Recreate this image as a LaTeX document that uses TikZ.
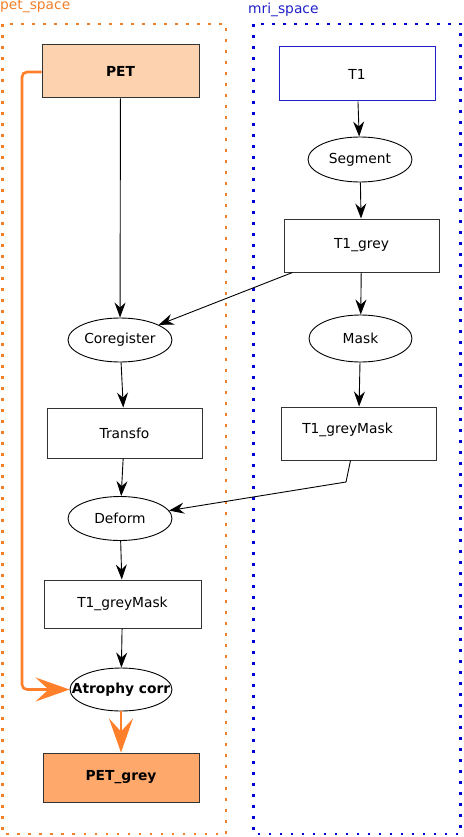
\documentclass[tikz,border=0pt]{standalone}
\usepackage{fontspec}
\setmainfont{DejaVu Sans}
\usetikzlibrary{arrows.meta,shapes.geometric,calc}
\definecolor{petor}{HTML}{F07F2A}
\definecolor{arrowor}{HTML}{FF7F2A}
\definecolor{petfill}{HTML}{FDD2AE}
\definecolor{petgreyfill}{HTML}{FFA86C}
\definecolor{mriblue}{HTML}{0000D4}
\definecolor{mrilabel}{HTML}{2020C8}
\definecolor{boxline}{HTML}{333333}
\newcommand{\ztext}[1]{\makebox[0pt]{#1}}
\begin{document}
\begin{tikzpicture}[x=1pt,y=-1pt,
  every node/.style={font=\fontsize{13.8}{16}\selectfont, inner sep=0pt},
  boxnode/.style={draw=boxline, line width=1pt, rectangle},
  ellnode/.style={draw=black, line width=0.9pt, ellipse},
  flow/.style={draw=black, line width=0.9pt, -{Stealth[length=15pt,width=11pt,inset=5pt]}},
  oflow/.style={draw=arrowor, line width=2.6pt, -{Stealth[length=34pt,width=24pt,inset=13pt]}},
  spacebox/.style={line width=2.6pt, dash pattern=on 2.6pt off 8.4pt}
]
\useasboundingbox (0,0) rectangle (463,837);
% spaces
\draw[spacebox, draw=petor] (2.5,24) rectangle (226,834);
\draw[spacebox, draw=mriblue] (253.5,24) rectangle (460.5,834);
\node[anchor=base west, text=petor] (petlabel) at (0,10) {pet\_space};
\node[anchor=base west, text=mrilabel] (mrilabel) at (248,13.5) {mri\_space};
% nodes
\node[boxnode, fill=petfill, minimum width=157pt, minimum height=53pt, font=\fontsize{13.8}{16}\selectfont\bfseries] (pet) at (120.5,71.5) {PET};
\node[boxnode, draw=mrilabel, minimum width=156pt, minimum height=54pt] (t1) at (357,74) {T1};
\node[ellnode, minimum width=104pt, minimum height=45pt] (segment) at (360,159.5) {\ztext{Segment}};
\node[boxnode, minimum width=155pt, minimum height=53pt] (t1grey) at (361.5,245.5) {T1\_grey};
\node[ellnode, minimum width=103pt, minimum height=47pt] (mask) at (360.5,338.5) {\ztext{Mask}};
\node[ellnode, minimum width=104pt, minimum height=44pt] (coreg) at (120,340) {\ztext{Coregister}};
\node[boxnode, minimum width=155pt, minimum height=50pt] (transfo) at (124.5,433) {Transfo};
\node[boxnode, minimum width=155pt, minimum height=53pt,
  label={[xshift=-11pt,yshift=4pt]center:T1\_greyMask}] (t1gmr) at (358.5,433.5) {};
\node[ellnode, minimum width=104pt, minimum height=44pt] (deform) at (120,518.5) {\ztext{Deform}};
\node[boxnode, minimum width=157pt, minimum height=48pt] (t1gml) at (122.5,604) {T1\_greyMask};
\node[ellnode, minimum width=102pt, minimum height=43pt, font=\fontsize{13.8}{16}\selectfont\bfseries] (atrophy) at (121,689.5) {\ztext{Atrophy corr}};
\node[boxnode, fill=petgreyfill, minimum width=156pt, minimum height=49pt, font=\fontsize{13.8}{16}\selectfont\bfseries] (petgrey) at (121,777.5) {PET\_grey};
\coordinate (bend) at (346,482);
% connectors
\draw[flow] (pet) -- (coreg);
\draw[flow] (t1) -- (segment);
\draw[flow] (segment) -- (t1grey);
\draw[flow] ($(t1grey.south west)+(9,0)$) -- (coreg);
\draw[flow] (t1grey) -- (mask);
\draw[flow] (mask) -- (t1gmr);
\draw[flow] (coreg) -- (transfo);
\draw[flow] (transfo) -- (deform);
\draw[flow] ($(t1gmr.south west)+(70,0)$) -- (bend) -- (deform);
\draw[flow] (deform) -- (t1gml);
\draw[flow] (t1gml) -- (atrophy);
\draw[oflow, rounded corners=5pt] (pet.west |- 0,72) -- (22,72) -- (22,689.5) -- (atrophy.west);
\draw[oflow] (atrophy) -- (petgrey);
\end{tikzpicture}
\end{document}
